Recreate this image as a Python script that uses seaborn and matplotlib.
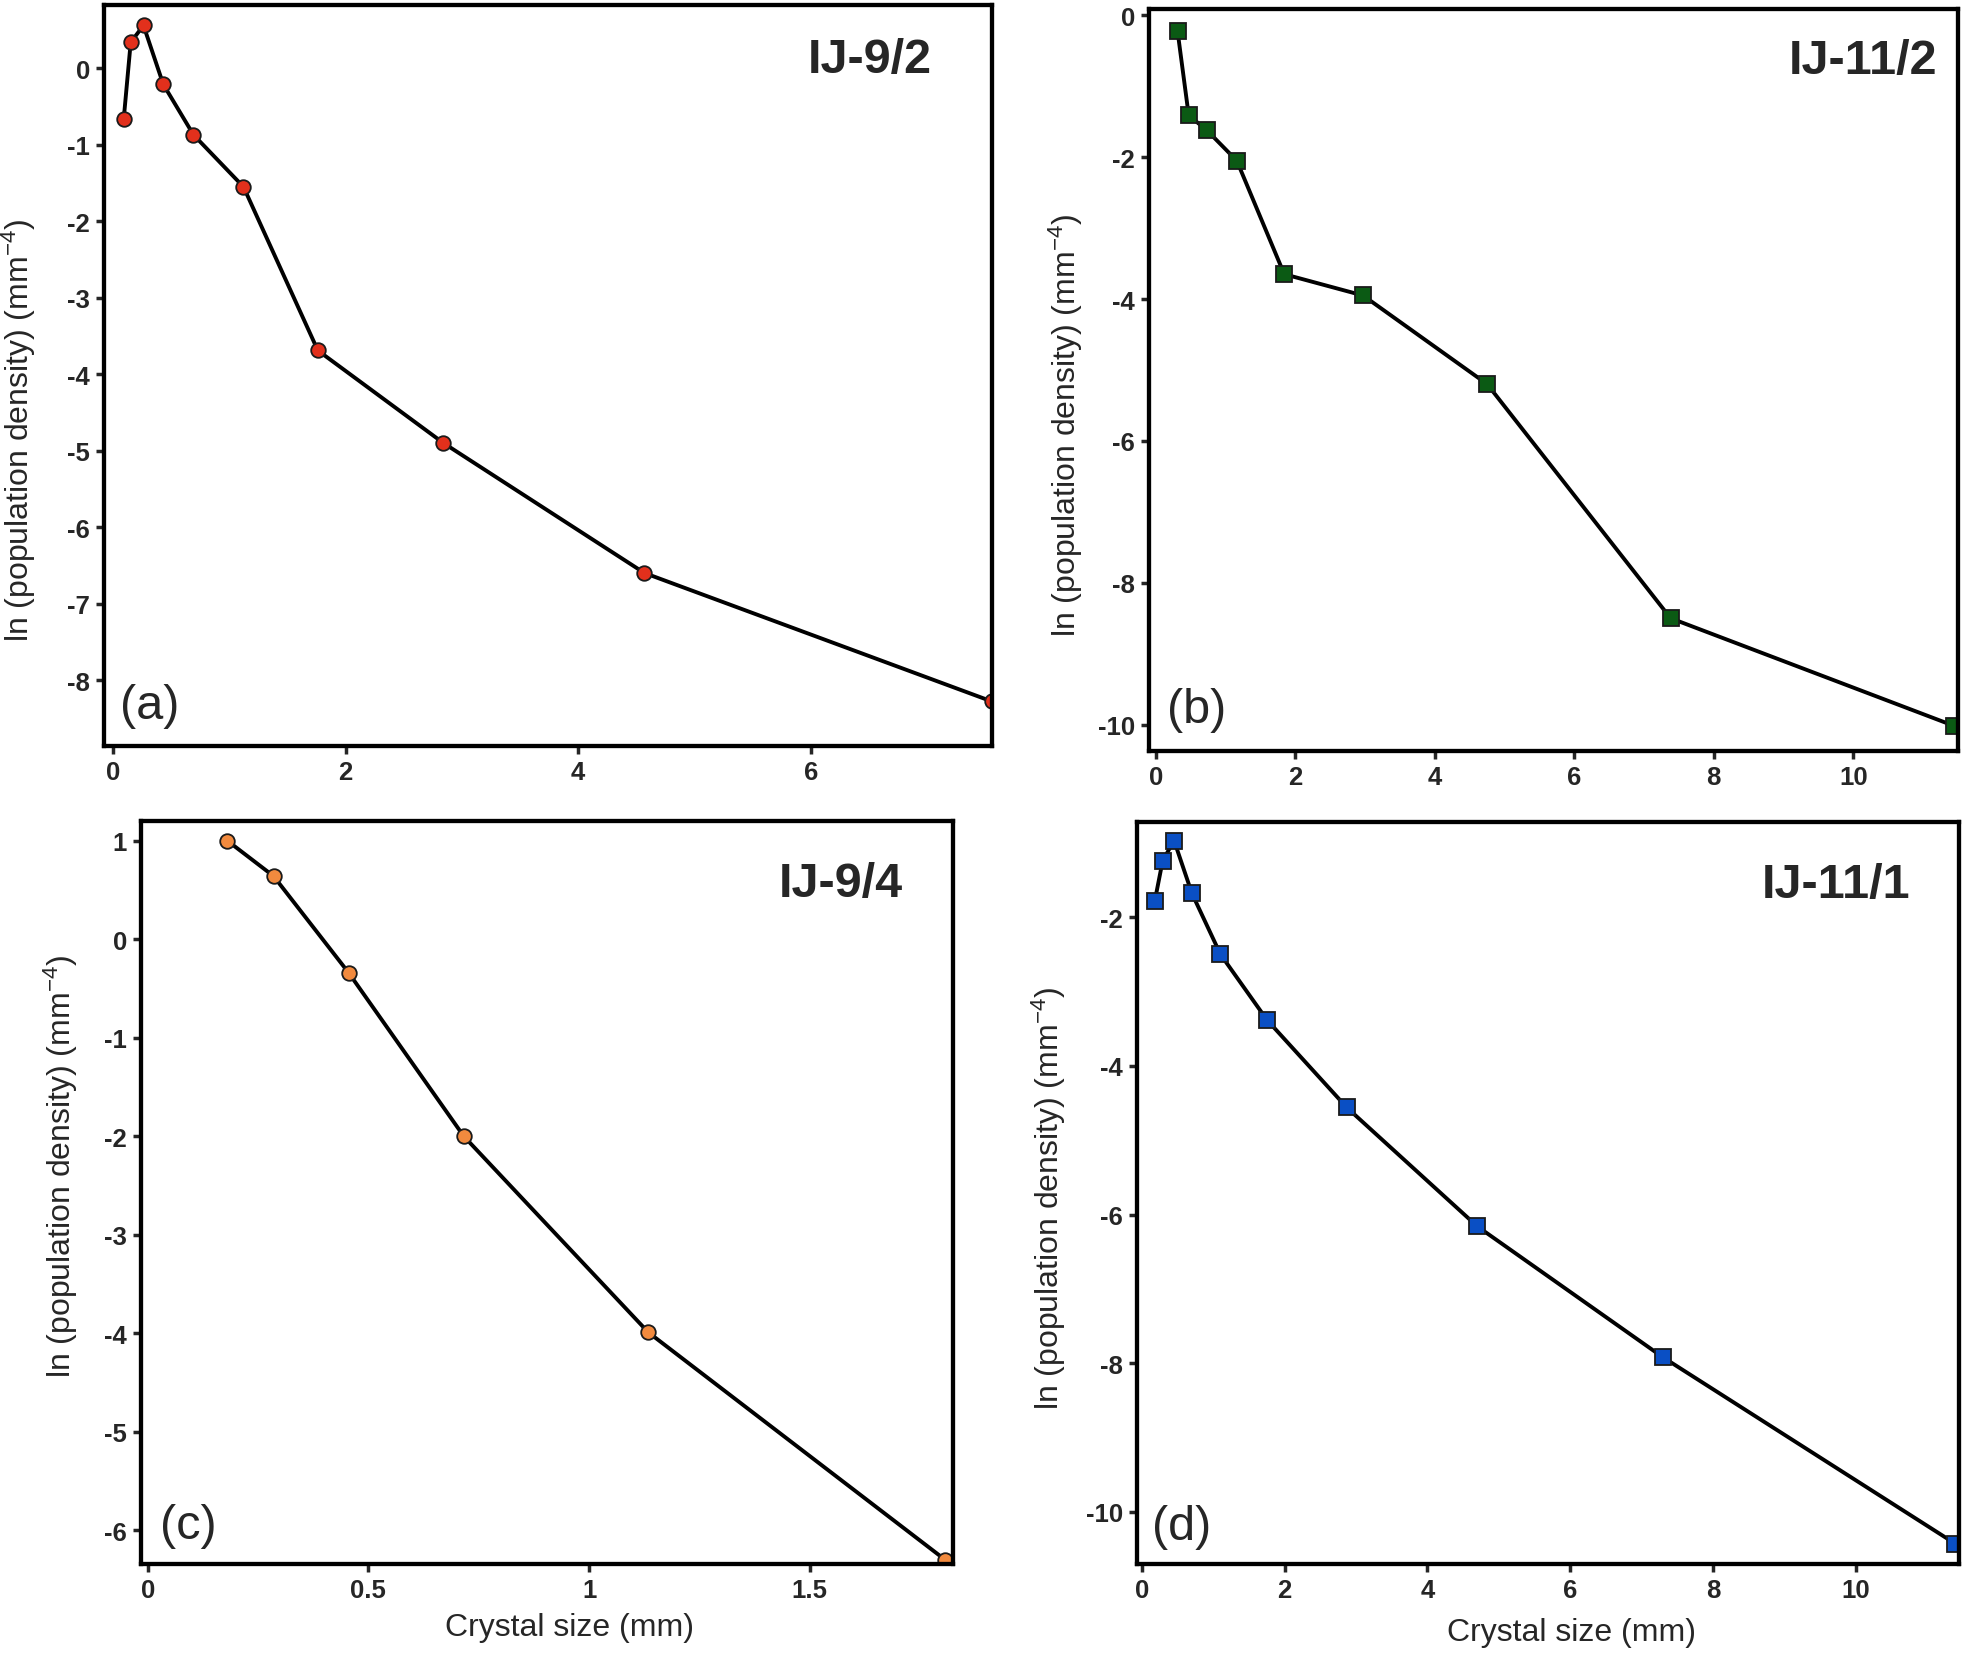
import matplotlib
matplotlib.use("Agg")
import matplotlib.pyplot as plt
import seaborn as sns

sns.set_style("ticks")
plt.rcParams['font.family'] = ['Liberation Sans', 'DejaVu Sans']
plt.rcParams['mathtext.default'] = 'regular'
plt.rcParams['axes.unicode_minus'] = False

# (a) IJ-9/2
size_a = [0.09, 0.15, 0.26, 0.43, 0.69, 1.12, 1.76, 2.84, 4.57, 7.56]
lnn_a = [-0.66, 0.34, 0.56, -0.21, -0.87, -1.55, -3.69, -4.90, -6.60, -8.28]
# (b) IJ-11/2
size_b = [0.31, 0.47, 0.73, 1.16, 1.84, 2.97, 4.75, 7.38, 11.45]
lnn_b = [-0.22, -1.41, -1.62, -2.05, -3.65, -3.95, -5.20, -8.50, -10.02]
# (c) IJ-9/4
size_c = [0.18, 0.285, 0.455, 0.716, 1.134, 1.807]
lnn_c = [1.00, 0.64, -0.34, -2.00, -3.99, -6.30]
# (d) IJ-11/1
size_d = [0.18, 0.29, 0.45, 0.70, 1.10, 1.75, 2.87, 4.70, 7.30, 11.40]
lnn_d = [-1.78, -1.24, -0.97, -1.68, -2.50, -3.38, -4.56, -6.16, -7.92, -10.43]

panels = [
    dict(x=size_a, y=lnn_a, name="IJ-9/2", tag="(a)", marker="o", color="#e2301c",
         rect=[0.053, 0.549, 0.4526, 0.4475], xlim=(-0.08, 7.56), ylim=(-8.86, 0.83),
         xticks=[0, 2, 4, 6], yticks=list(range(0, -9, -1)),
         title_pos=(0.932, 0.926), tag_pos=(0.018, 0.054), ylab_x=-0.074, ylab_y=0.427, xlab=None),
    dict(x=size_b, y=lnn_b, name="IJ-11/2", tag="(b)", marker="s", color="#0b5a14",
         rect=[0.5856, 0.546, 0.4123, 0.448], xlim=(-0.1, 11.5), ylim=(-10.37, 0.09),
         xticks=[0, 2, 4, 6, 8, 10], yticks=[0, -2, -4, -6, -8, -10],
         title_pos=(0.975, 0.931), tag_pos=(0.022, 0.056), ylab_x=-0.079, ylab_y=0.44, xlab=None),
    dict(x=size_c, y=lnn_c, name="IJ-9/4", tag="(c)", marker="o", color="#f28a3e",
         rect=[0.0719, 0.055, 0.414, 0.4487], xlim=(-0.015, 1.825), ylim=(-6.34, 1.2),
         xticks=[0, 0.5, 1, 1.5], yticks=list(range(1, -7, -1)),
         title_pos=(0.938, 0.916), tag_pos=(0.023, 0.052), ylab_x=-0.075, ylab_y=0.537,
         xlab=(0.527, -0.065)),
    dict(x=size_d, y=lnn_d, name="IJ-11/1", tag="(d)", marker="s", color="#0a4fc4",
         rect=[0.5795, 0.055, 0.419, 0.448], xlim=(-0.07, 11.45), ylim=(-10.7, -0.72),
         xticks=[0, 2, 4, 6, 8, 10], yticks=[-2, -4, -6, -8, -10],
         title_pos=(0.941, 0.916), tag_pos=(0.018, 0.051), ylab_x=-0.084, ylab_y=0.494,
         xlab=(0.529, -0.071)),
]

fig = plt.figure(figsize=(19.62, 16.56), dpi=100)

for p in panels:
    ax = fig.add_axes(p["rect"])
    msize = 11 if p["marker"] == "s" else 10.5
    sns.lineplot(x=p["x"], y=p["y"], ax=ax, color="black", linewidth=2.8,
                 marker=p["marker"], markersize=msize, markerfacecolor=p["color"],
                 markeredgecolor="#1a1a1a", markeredgewidth=1.3)
    ax.set_xlim(*p["xlim"])
    ax.set_ylim(*p["ylim"])
    ax.set_xticks(p["xticks"])
    ax.set_xticklabels([f"{t:g}" for t in p["xticks"]])
    ax.set_yticks(p["yticks"])
    ax.set_yticklabels([f"{t:g}" for t in p["yticks"]])
    for s in ax.spines.values():
        s.set_linewidth(3.1)
        s.set_color("black")
    ax.tick_params(direction="out", length=6, width=2.5, labelsize=18.5, pad=4)
    for lab in ax.get_xticklabels() + ax.get_yticklabels():
        lab.set_fontweight("bold")
    ax.set_ylabel("ln (population density) (mm$^{-4}$)", fontsize=23)
    ax.yaxis.set_label_coords(p["ylab_x"], p["ylab_y"])
    if p["xlab"] is not None:
        ax.set_xlabel("Crystal size (mm)", fontsize=23)
        ax.xaxis.set_label_coords(*p["xlab"])
    else:
        ax.set_xlabel("")
    ax.text(p["title_pos"][0], p["title_pos"][1], p["name"], transform=ax.transAxes,
            ha="right", va="center", fontsize=35, fontweight="bold")
    ax.text(p["tag_pos"][0], p["tag_pos"][1], p["tag"], transform=ax.transAxes,
            ha="left", va="center", fontsize=35)

fig.savefig("out.png", dpi=100)
